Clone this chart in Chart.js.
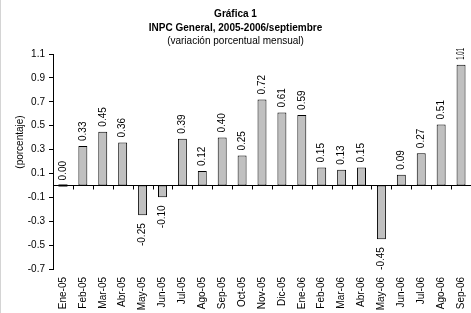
<!DOCTYPE html>
<html>
<head>
<meta charset="utf-8">
<script src="https://cdn.jsdelivr.net/npm/chart.js@4/dist/chart.umd.min.js"></script>
<style>
html,body{margin:0;padding:0;background:#fff;}
canvas{display:block;}
</style>
</head>
<body>
<canvas id="c" width="471" height="313"></canvas>
<script>
const categories = ['Ene-05','Feb-05','Mar-05','Abr-05','May-05','Jun-05','Jul-05','Ago-05','Sep-05','Oct-05','Nov-05','Dic-05','Ene-06','Feb-06','Mar-06','Abr-06','May-06','Jun-06','Jul-06','Ago-06','Sep-06'];
const values = [0.00,0.33,0.45,0.36,-0.25,-0.10,0.39,0.12,0.40,0.25,0.72,0.61,0.59,0.15,0.13,0.15,-0.45,0.09,0.27,0.51,1.01];
const yTicks = [1.1,0.9,0.7,0.5,0.3,0.1,-0.1,-0.3,-0.5,-0.7];
const titleLines = ['Gráfica 1','INPC General, 2005-2006/septiembre'];
const subtitleText = '(variación porcentual mensual)';
const yAxisTitle = '(porcentaje)';

const FONT = '"Liberation Sans", Arial, sans-serif';

const bgPlugin = {
  id: 'bg',
  beforeDraw(chart) {
    const ctx = chart.ctx;
    ctx.save();
    ctx.fillStyle = '#fff';
    ctx.fillRect(0, 0, chart.width, chart.height);
    ctx.fillStyle = '#d4d4d4';
    ctx.fillRect(0, 0, 1, chart.height);
    ctx.restore();
  }
};

const axisPlugin = {
  id: 'zeroAxis',
  afterDatasetsDraw(chart) {
    const ctx = chart.ctx;
    const x = chart.scales.x, y = chart.scales.y;
    const y0 = Math.round(y.getPixelForValue(0)) + 0.5;
    const half = (x.getPixelForValue(1) - x.getPixelForValue(0)) / 2;
    const meta = chart.getDatasetMeta(0);
    ctx.save();
    ctx.strokeStyle = '#000';
    ctx.lineWidth = 1;
    ctx.beginPath();
    ctx.moveTo(chart.chartArea.left, y0);
    ctx.lineTo(chart.chartArea.right, y0);
    for (let i = 0; i <= categories.length; i++) {
      const px = Math.round(x.getPixelForValue(i) - half) + 0.5;
      ctx.moveTo(px, y0);
      ctx.lineTo(px, y0 + 4);
    }
    ctx.stroke();

    // zero-valued bars drawn as a thick segment
    ctx.lineWidth = 2;
    ctx.beginPath();
    meta.data.forEach((bar, i) => {
      if (values[i] === 0) {
        ctx.moveTo(bar.x - bar.width / 2, y0);
        ctx.lineTo(bar.x + bar.width / 2, y0);
      }
    });
    ctx.stroke();

    // y axis title
    ctx.fillStyle = '#000';
    ctx.font = '10px ' + FONT;
    ctx.translate(20, 142);
    ctx.rotate(-Math.PI / 2);
    ctx.textAlign = 'center';
    ctx.textBaseline = 'middle';
    ctx.fillText(yAxisTitle, 0, 0);
    ctx.restore();

    // data labels
    const topLimit = chart.chartArea.top - 6;
    ctx.save();
    ctx.fillStyle = '#000';
    ctx.font = '10px ' + FONT;
    ctx.textBaseline = 'middle';
    meta.data.forEach((bar, i) => {
      const v = values[i];
      const txt = v.toFixed(2);
      const w = ctx.measureText(txt).width;
      ctx.save();
      if (v >= 0) {
        const start = bar.y - 5;
        ctx.translate(bar.x, start);
        ctx.rotate(-Math.PI / 2);
        const avail = start - topLimit;
        if (w > avail) ctx.scale(avail / w, 1);
        ctx.textAlign = 'left';
      } else {
        ctx.translate(bar.x, bar.y + 8);
        ctx.rotate(-Math.PI / 2);
        ctx.textAlign = 'right';
      }
      ctx.fillText(txt, 0, 0);
      ctx.restore();
    });
    ctx.restore();
  }
};

new Chart(document.getElementById('c'), {
  type: 'bar',
  data: {
    labels: categories,
    datasets: [{
      data: values,
      backgroundColor: '#c0c0c0',
      borderColor: '#000',
      borderWidth: 1,
      borderSkipped: false,
      barPercentage: 0.45,
      categoryPercentage: 1.0
    }]
  },
  options: {
    responsive: false,
    animation: false,
    devicePixelRatio: 1,
    layout: { padding: { left: 0, right: 0, top: 0, bottom: 0 } },
    plugins: {
      legend: { display: false },
      tooltip: { enabled: false },
      title: {
        display: true,
        text: titleLines,
        color: '#000',
        font: { family: FONT, size: 10, weight: 'bold', lineHeight: 1.4 },
        padding: { top: 7, bottom: 0 }
      },
      subtitle: {
        display: true,
        text: subtitleText,
        color: '#000',
        font: { family: FONT, size: 10, weight: 'normal', lineHeight: 1.2 },
        padding: { top: 0, bottom: 7 }
      }
    },
    scales: {
      x: {
        grid: { display: false, drawTicks: false },
        border: { display: false },
        ticks: {
          color: '#000',
          font: { family: FONT, size: 10 },
          maxRotation: 90,
          minRotation: 90,
          autoSkip: false,
          padding: 8
        },
        afterFit(scale) { scale.height = 44; scale.paddingLeft = 0; scale.paddingRight = 0; }
      },
      y: {
        min: -0.7,
        max: 1.1,
        afterBuildTicks(scale) { scale.ticks = yTicks.map(v => ({ value: v })); },
        grid: { drawOnChartArea: false, drawTicks: true, tickLength: 4, color: '#000' },
        border: { display: true, color: '#000', width: 1 },
        ticks: {
          color: '#000',
          font: { family: FONT, size: 10 },
          padding: 4,
          callback: v => Number(v).toFixed(1)
        },
        afterFit(scale) { scale.width = 53; scale.paddingTop = 0; scale.paddingBottom = 0; }
      }
    }
  },
  plugins: [bgPlugin, axisPlugin]
});
</script>
</body>
</html>
